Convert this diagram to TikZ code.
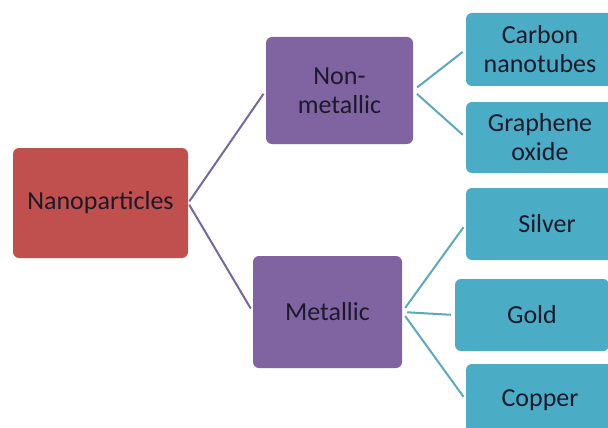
\documentclass[tikz,border=0pt]{standalone}
\usepackage{fontspec}
\setmainfont{Carlito}
\definecolor{redbox}{HTML}{C0504D}
\definecolor{purplebox}{HTML}{8064A2}
\definecolor{cyanbox}{HTML}{4BACC6}
\definecolor{leftline}{HTML}{76689A}
\definecolor{rightline}{HTML}{5BA9BC}
\definecolor{txt}{HTML}{1C1A2A}
\begin{document}
\begin{tikzpicture}[x=1pt,y=-1pt,
  box/.style={rectangle, rounded corners=6pt, inner sep=0pt, align=center,
    font=\fontsize{26}{29}\selectfont, text=txt},
  rootbox/.style={box, fill=redbox},
  midbox/.style={box, fill=purplebox},
  leafbox/.style={box, fill=cyanbox},
  lconn/.style={draw=leftline, line width=2pt, shorten <=2pt, shorten >=4pt},
  rconn/.style={draw=rightline, line width=2pt, shorten <=5pt, shorten >=4pt}]
\useasboundingbox (0,0) rectangle (608,428);
\clip (0,0) rectangle (608,428);
\fill[white] (0,0) rectangle (608,428);
\node[rootbox, minimum width=175pt, minimum height=110pt] (np) at (100.5,203) {Nanoparticles};
\node[midbox, minimum width=147pt, minimum height=107pt] (nm) at (339.5,90.5) {Non-\\metallic};
\node[midbox, minimum width=149pt, minimum height=112pt] (met) at (327.5,312) {Metallic};
\node[leafbox, minimum width=148pt, minimum height=73pt] (cnt) at (540,49.5) {Carbon\\nanotubes};
\node[leafbox, minimum width=148pt, minimum height=71pt] (go) at (540,137.5) {Graphene\\oxide};
\node[leafbox, minimum width=162pt, minimum height=72pt] (ag) at (547,224) {Silver};
\node[leafbox, minimum width=154pt, minimum height=72pt] (au) at (532,315) {Gold};
\node[leafbox, minimum width=148pt, minimum height=72pt] (cu) at (540,400) {Copper};
\draw[lconn] (np.east) -- (nm.west);
\draw[lconn] (np.east) -- (met.west);
\draw[rconn] (nm.east) -- (cnt.west);
\draw[rconn] (nm.east) -- (go.west);
\draw[rconn] (met.east) -- (ag.west);
\draw[rconn] (met.east) -- (au.west);
\draw[rconn] (met.east) -- (cu.west);
\end{tikzpicture}
\end{document}
